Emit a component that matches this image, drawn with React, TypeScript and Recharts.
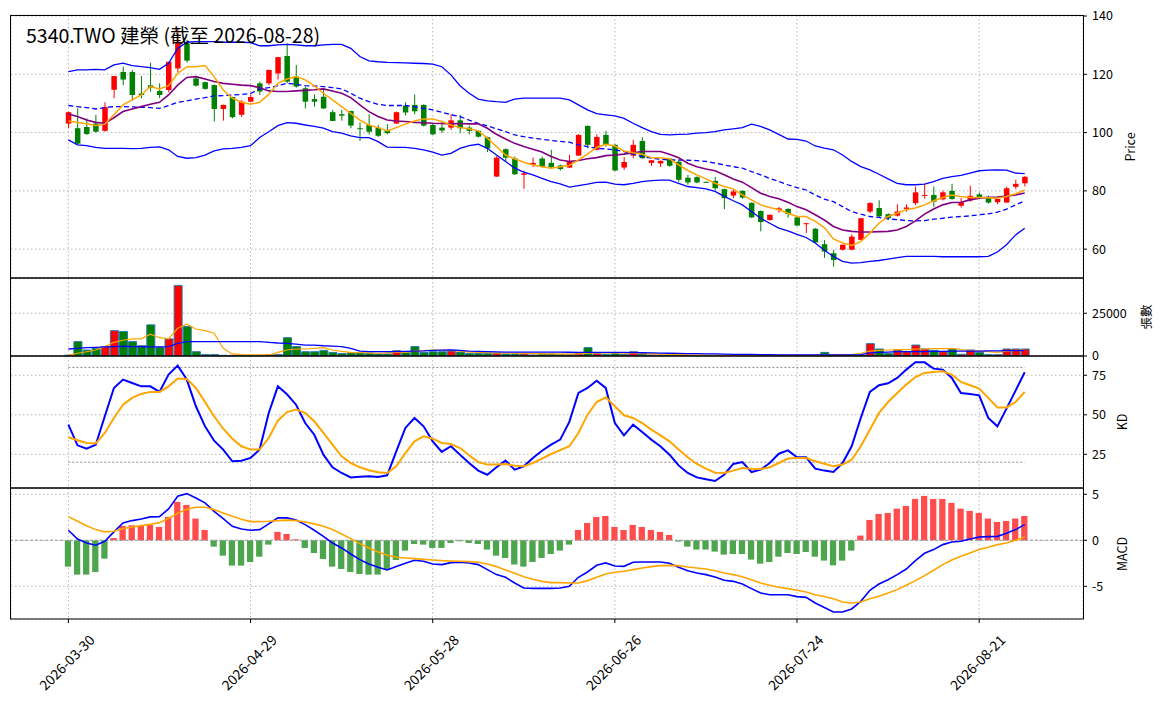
import React from "react";
import {
  Bar,
  CartesianGrid,
  Cell,
  ComposedChart,
  Line,
  ReferenceLine,
  XAxis,
  YAxis,
} from "recharts";

// ---- data (one entry per trading day, index 0..105) ----
const tickIdx = [0, 20, 40, 60, 80, 100];
const tickLabels = ["2026-03-30", "2026-04-29", "2026-05-28", "2026-06-26", "2026-07-24", "2026-08-21"];

const open = [
  103.1, 101.5, 101.9, 103.1, 100.6, 114.7, 120.8, 120.8, 113.4, 116.2, 114.3, 114.6, 122.0, 130.6, 118.6, 117.3, 116.3, 108.1, 112.2, 106.1,
  110.6, 116.9, 116.9, 120.3, 126.3, 119.2, 115.2, 111.5, 112.3, 107.0, 106.3, 107.4, 101.5, 102.6, 101.7, 100.9, 103.1, 109.3, 109.5, 109.5,
  102.6, 101.7, 101.7, 104.2, 101.7, 100.6, 98.4, 84.9, 94.3, 91.1, 85.5, 89.0, 91.1, 89.6, 88.7, 88.0, 92.1, 102.3, 94.1, 99.2,
  95.8, 88.0, 92.1, 97.1, 89.6, 89.4, 91.1, 90.0, 84.5, 84.7, 83.1, 83.4, 80.6, 78.4, 80.0, 75.9, 73.1, 70.0, 73.4, 73.8,
  70.9, 68.6, 67.0, 61.7, 58.6, 59.8, 59.8, 63.2, 72.9, 74.1, 72.0, 71.5, 73.8, 75.8, 78.3, 78.6, 77.1, 80.0, 74.9, 76.7,
  78.8, 77.7, 76.1, 76.0, 81.4, 82.6,
];
const high = [
  107.2, 108.3, 104.9, 106.1, 110.4, 119.4, 122.6, 121.5, 119.4, 124.0, 116.9, 124.3, 136.0, 131.8, 119.0, 117.5, 116.5, 109.6, 112.3, 111.1,
  113.1, 117.5, 121.6, 126.0, 130.6, 123.2, 115.8, 113.1, 115.0, 107.8, 107.8, 107.5, 103.5, 106.3, 102.6, 102.9, 107.2, 110.4, 113.1, 109.7,
  103.0, 104.0, 106.3, 106.1, 102.4, 100.8, 98.6, 91.9, 94.6, 91.8, 86.9, 91.4, 91.8, 94.1, 89.0, 92.3, 99.5, 102.4, 99.4, 100.6,
  96.0, 91.6, 97.5, 98.4, 90.6, 90.4, 91.3, 90.4, 85.5, 85.0, 83.2, 84.8, 80.8, 80.6, 80.2, 76.0, 73.3, 71.9, 74.5, 74.0,
  71.0, 69.0, 67.2, 63.1, 59.8, 61.6, 65.1, 70.7, 76.1, 76.8, 72.3, 75.4, 75.4, 81.5, 82.4, 81.5, 80.1, 82.4, 77.5, 81.8,
  79.4, 78.4, 77.4, 81.5, 83.8, 85.1,
];
const low = [
  101.5, 96.0, 99.2, 100.0, 100.3, 111.8, 116.3, 110.9, 111.8, 114.0, 111.8, 113.8, 120.7, 124.0, 115.8, 114.7, 103.8, 104.1, 104.9, 105.4,
  110.4, 112.9, 116.3, 118.2, 116.9, 115.4, 108.3, 108.9, 108.1, 103.9, 104.1, 101.5, 97.1, 99.4, 98.5, 99.4, 102.9, 105.9, 106.3, 102.1,
  99.2, 99.8, 100.9, 99.8, 99.4, 98.3, 93.3, 84.8, 90.0, 85.5, 80.7, 88.2, 87.9, 87.8, 87.0, 87.8, 92.0, 94.6, 93.9, 95.2,
  86.8, 87.2, 91.2, 91.0, 88.5, 88.2, 88.3, 83.1, 82.1, 82.6, 82.8, 80.2, 73.7, 77.5, 77.3, 70.7, 66.1, 69.8, 72.5, 70.8,
  67.9, 65.5, 62.2, 57.0, 54.0, 59.5, 59.6, 63.1, 72.3, 71.0, 70.0, 71.2, 72.9, 75.1, 77.3, 74.5, 76.7, 76.9, 74.3, 76.3,
  77.4, 75.6, 75.4, 75.9, 80.6, 81.5,
];
const close = [
  107.0, 96.2, 99.5, 100.3, 108.8, 119.4, 118.2, 112.9, 112.9, 115.4, 112.9, 124.3, 131.2, 124.7, 116.1, 115.0, 108.1, 109.5, 105.3, 110.6,
  112.2, 114.1, 121.5, 125.9, 117.5, 115.8, 110.6, 110.6, 108.3, 104.0, 105.8, 102.4, 101.3, 100.3, 98.9, 99.8, 107.0, 106.9, 107.3, 102.4,
  99.4, 100.7, 104.2, 101.5, 100.6, 98.6, 94.6, 91.4, 91.4, 85.7, 86.0, 89.6, 88.3, 88.1, 87.5, 90.3, 99.2, 95.8, 98.5, 95.8,
  87.0, 89.9, 95.8, 91.2, 90.5, 90.3, 88.6, 83.8, 82.9, 82.9, 82.9, 80.9, 77.5, 79.8, 77.7, 70.9, 69.3, 71.8, 74.0, 72.0,
  68.1, 68.9, 62.3, 59.2, 56.3, 61.5, 64.3, 70.6, 75.8, 71.3, 70.6, 72.9, 74.3, 79.5, 78.6, 76.3, 79.5, 77.2, 76.1, 78.3,
  77.9, 76.0, 77.2, 80.9, 82.4, 84.8,
];
const ma5 = [
  104.0, 103.5, 103.0, 102.4, 102.9, 106.1, 109.5, 111.2, 112.9, 115.8, 115.0, 116.1, 120.3, 122.6, 122.6, 123.0, 119.2, 114.6, 111.8, 110.4,
  109.7, 110.4, 113.1, 116.9, 118.4, 119.2, 118.1, 116.0, 113.5, 111.2, 108.9, 106.6, 104.3, 102.6, 101.7, 100.6, 101.7, 102.9, 104.0, 104.7,
  104.7, 103.8, 102.6, 101.7, 101.3, 100.6, 98.1, 95.2, 92.3, 91.0, 89.8, 88.9, 88.3, 87.8, 88.3, 88.7, 90.6, 92.6, 94.9, 96.0,
  95.4, 93.7, 93.1, 92.6, 91.4, 91.4, 91.0, 88.9, 87.0, 85.5, 84.1, 82.6, 81.5, 80.7, 78.6, 76.9, 75.2, 74.3, 73.5, 72.3,
  71.2, 71.2, 69.5, 67.4, 63.5, 62.1, 61.3, 62.6, 65.5, 68.9, 71.2, 72.3, 73.5, 74.1, 75.2, 76.6, 77.7, 78.6, 78.1, 77.7,
  77.7, 77.6, 77.5, 78.1, 79.0, 80.3,
];
const ma10 = [
  106.4, 105.5, 104.3, 103.5, 103.2, 105.1, 107.2, 108.1, 108.9, 109.7, 110.4, 112.9, 116.3, 118.9, 119.2, 118.4, 117.5, 116.9, 116.6, 116.3,
  116.1, 115.4, 114.3, 114.1, 114.1, 114.3, 114.5, 114.7, 115.0, 114.3, 113.5, 112.0, 109.5, 107.2, 105.5, 104.3, 104.0, 103.8, 103.5, 103.4,
  103.2, 103.1, 103.0, 103.1, 103.0, 103.0, 101.5, 99.4, 97.8, 96.3, 95.2, 94.3, 93.3, 91.8, 90.6, 90.1, 90.4, 91.0, 91.4, 92.1,
  92.3, 92.6, 93.1, 93.5, 93.5, 93.5, 92.6, 91.4, 89.5, 88.3, 87.5, 86.9, 85.5, 84.1, 83.0, 81.1, 79.2, 78.1, 77.3, 76.1,
  74.6, 73.5, 71.8, 70.0, 67.8, 66.6, 66.1, 65.9, 65.9, 66.0, 66.1, 66.6, 67.8, 69.7, 72.0, 73.8, 75.2, 76.0, 76.1, 76.9,
  77.5, 77.8, 77.9, 78.2, 78.6, 79.3,
];
const bbUpper = [
  120.9, 121.5, 121.5, 121.7, 121.5, 123.2, 123.8, 123.0, 122.6, 122.3, 121.7, 123.8, 128.9, 131.0, 131.2, 131.2, 131.2, 131.0, 131.0, 131.0,
  130.9, 129.8, 129.8, 130.1, 130.3, 130.1, 129.8, 129.8, 130.1, 130.3, 130.3, 128.9, 126.1, 124.6, 124.3, 124.1, 124.0, 123.9, 123.8, 123.7,
  123.5, 122.6, 119.8, 116.1, 113.5, 111.5, 110.9, 110.6, 110.4, 111.5, 111.8, 111.8, 111.8, 111.8, 111.8, 111.2, 109.5, 107.8, 106.5, 106.1,
  105.7, 104.9, 103.2, 101.7, 100.3, 99.4, 99.2, 99.4, 99.5, 99.8, 100.0, 100.3, 100.9, 101.3, 101.7, 102.9, 102.1, 100.9, 99.4, 97.8,
  97.7, 97.1, 95.4, 94.7, 94.1, 92.3, 90.1, 88.3, 87.2, 85.7, 84.1, 82.6, 82.1, 82.1, 82.3, 83.2, 84.3, 84.9, 85.3, 86.1,
  86.9, 87.1, 87.2, 87.1, 86.1, 85.9,
];
const bbMid = [
  109.3, 108.9, 108.6, 108.1, 108.6, 108.9, 108.9, 108.8, 108.7, 108.6, 108.3, 109.3, 110.4, 110.9, 111.5, 112.0, 112.6, 112.7, 112.9, 113.1,
  113.4, 115.0, 115.4, 116.1, 116.9, 116.6, 116.1, 116.0, 115.8, 115.4, 115.0, 113.5, 111.8, 110.6, 109.7, 109.3, 109.3, 109.3, 108.9, 108.3,
  107.8, 107.0, 106.1, 105.5, 104.3, 103.2, 102.3, 101.3, 100.3, 99.2, 98.6, 98.1, 97.7, 97.3, 97.0, 96.7, 95.8, 95.2, 94.6, 94.4,
  94.1, 93.5, 92.6, 91.8, 91.2, 90.9, 90.6, 90.6, 90.5, 90.4, 90.1, 89.5, 88.9, 88.3, 87.8, 86.6, 85.5, 84.3, 83.2, 82.1,
  81.1, 80.3, 78.6, 77.2, 76.3, 74.6, 72.9, 72.0, 71.2, 70.9, 70.4, 70.1, 69.8, 69.7, 69.8, 70.3, 70.6, 71.0, 71.2, 71.4,
  71.8, 72.1, 72.7, 73.7, 75.2, 76.6,
];
const bbLower = [
  97.5, 95.8, 95.5, 94.9, 94.6, 94.6, 94.6, 94.5, 94.6, 94.9, 95.1, 94.1, 91.8, 91.2, 91.4, 92.3, 93.7, 94.4, 94.6, 94.9,
  95.5, 98.3, 100.3, 102.4, 103.4, 103.2, 102.6, 102.1, 101.5, 100.3, 99.8, 98.9, 98.3, 98.3, 96.9, 95.0, 94.9, 94.9, 94.6, 94.1,
  93.3, 92.3, 92.9, 94.6, 95.5, 96.0, 94.6, 92.3, 90.1, 87.8, 86.4, 85.5, 84.3, 83.2, 82.4, 81.3, 81.8, 82.3, 82.9, 83.0,
  82.3, 82.1, 82.6, 83.2, 83.5, 83.7, 83.7, 82.6, 81.5, 81.1, 80.7, 79.8, 78.1, 76.6, 75.2, 72.9, 70.6, 68.9, 67.2, 66.3,
  65.1, 64.0, 62.1, 59.6, 57.5, 55.8, 55.2, 55.4, 55.8, 56.1, 56.6, 57.1, 57.5, 57.5, 57.5, 57.5, 57.4, 57.4, 57.4, 57.4,
  57.4, 57.5, 59.0, 61.5, 64.9, 67.2,
];
const volume = [
  500, 8400, 3500, 4500, 5500, 14800, 14300, 8400, 6000, 18200, 4900, 10000, 41200, 17200, 2500, 800, 800, 400, 400, 400,
  400, 400, 800, 800, 10700, 5500, 2500, 2500, 3300, 2100, 1400, 1800, 1800, 1600, 1200, 1200, 3100, 2100, 5500, 2100,
  2500, 2500, 2900, 2300, 1400, 1400, 1600, 1600, 1200, 1200, 1200, 600, 1200, 1200, 1000, 1000, 1400, 4900, 1400, 1000,
  1400, 1000, 2500, 1200, 600, 500, 500, 500, 400, 400, 400, 400, 400, 400, 400, 400, 400, 400, 400, 400,
  400, 400, 400, 2100, 600, 600, 600, 500, 7200, 4100, 1400, 3500, 2500, 6400, 4100, 3300, 2500, 4100, 1000, 3500,
  2100, 800, 800, 4100, 4100, 4100,
];
const volMa5 = [
  600, 1600, 2500, 3500, 5500, 8000, 9200, 10000, 10000, 12700, 10700, 10000, 16200, 18600, 15800, 14800, 13300, 4500, 1200, 800,
  600, 600, 600, 2100, 3500, 4100, 4100, 4500, 4900, 3500, 2700, 2100, 1900, 1800, 1600, 1800, 2100, 2100, 2900, 3100,
  3500, 3500, 3300, 2900, 2300, 2100, 1900, 1800, 1600, 1600, 1500, 1400, 1300, 1200, 1100, 1100, 1200, 1600, 1800, 1800,
  1800, 1600, 1600, 1400, 1300, 1100, 900, 800, 600, 500, 400, 400, 400, 400, 400, 400, 400, 400, 400, 400,
  400, 400, 400, 600, 600, 600, 800, 1600, 2900, 3300, 3500, 3700, 3700, 4100, 4100, 4300, 4300, 4500, 3700, 3100,
  2900, 2500, 2100, 2900, 3300, 3700,
];
const volMa20 = [
  4100, 4500, 4900, 5100, 5300, 5500, 5700, 5500, 5500, 5300, 5300, 5500, 7400, 8400, 8400, 8400, 8400, 8400, 8400, 8400,
  8400, 8400, 8000, 7600, 7400, 7000, 6400, 6400, 6000, 5800, 5500, 4500, 2900, 2500, 2500, 2500, 2600, 2700, 2900, 3000,
  3300, 3400, 3500, 3300, 2900, 2700, 2500, 2400, 2300, 2300, 2300, 2300, 2300, 2300, 2300, 2200, 2100, 2100, 2100, 2100,
  2100, 2100, 2000, 1900, 1800, 1700, 1600, 1500, 1400, 1400, 1300, 1200, 1100, 1000, 900, 900, 800, 800, 700, 700,
  600, 600, 600, 600, 600, 600, 600, 800, 1800, 2100, 2300, 2500, 2500, 2600, 2600, 2700, 2700, 2800, 2800, 2900,
  2900, 3000, 3000, 3100, 3200, 3300,
];
const kLine = [
  43.8, 30.7, 28.6, 31.1, 49.1, 67.0, 72.3, 70.1, 68.0, 68.0, 64.5, 75.4, 81.1, 72.3, 55.4, 42.7, 33.6, 28.0, 20.6, 21.0,
  22.7, 28.0, 51.2, 68.0, 63.0, 56.4, 44.8, 37.4, 24.8, 16.8, 13.2, 10.4, 10.8, 11.1, 10.7, 11.7, 26.9, 41.7, 48.0, 42.7,
  33.2, 26.5, 30.1, 24.8, 19.5, 14.7, 12.1, 16.8, 21.0, 15.3, 17.4, 22.7, 27.3, 31.1, 34.3, 45.5, 63.8, 67.0, 71.6, 67.0,
  44.8, 37.0, 43.8, 39.1, 34.3, 30.1, 24.8, 18.0, 13.2, 10.4, 9.2, 8.1, 12.1, 18.9, 20.1, 13.8, 15.3, 19.5, 25.4, 27.5,
  23.1, 23.1, 15.9, 14.7, 13.8, 19.5, 30.1, 48.0, 64.5, 68.7, 69.9, 73.3, 78.6, 83.2, 83.2, 79.2, 78.6, 73.3, 63.8, 63.2,
  62.3, 48.0, 42.7, 53.9, 65.3, 76.9,
];
const dLine = [
  35.8, 33.9, 32.2, 31.8, 38.5, 48.0, 56.4, 60.7, 63.2, 64.5, 64.5, 68.0, 72.9, 72.7, 67.0, 58.1, 49.1, 41.2, 34.9, 30.1,
  28.0, 28.0, 35.3, 46.3, 51.7, 53.3, 51.2, 45.9, 38.5, 31.1, 23.7, 19.5, 16.8, 14.9, 13.6, 13.2, 17.4, 25.8, 33.2, 36.4,
  34.9, 32.2, 31.5, 29.0, 24.4, 20.1, 18.5, 18.5, 18.9, 17.8, 17.4, 19.5, 22.3, 25.2, 27.7, 30.1, 38.5, 50.1, 58.1, 61.1,
  55.4, 49.7, 48.0, 44.8, 40.6, 37.0, 33.2, 28.0, 23.1, 18.9, 15.9, 13.4, 13.2, 14.7, 16.4, 15.9, 15.7, 16.8, 19.5, 22.3,
  22.7, 22.7, 20.6, 19.0, 17.4, 18.5, 21.6, 30.1, 40.6, 51.2, 58.1, 63.8, 69.1, 73.9, 76.5, 77.1, 77.5, 75.4, 70.8, 68.7,
  66.6, 60.7, 54.7, 54.7, 58.1, 64.5,
];
const dif = [
  1.09, 0.14, -0.29, -0.54, -0.11, 0.91, 1.88, 2.14, 2.32, 2.54, 2.57, 3.41, 4.78, 5.07, 4.6, 4.06, 3.15, 2.36, 1.52, 1.23,
  1.09, 1.16, 1.78, 2.43, 2.43, 2.21, 1.7, 1.09, 0.43, -0.29, -0.83, -1.49, -2.1, -2.57, -2.93, -3.22, -2.86, -2.5, -2.17, -2.28,
  -2.57, -2.64, -2.43, -2.39, -2.46, -2.64, -3.19, -3.73, -4.02, -4.64, -5.18, -5.22, -5.22, -5.22, -5.18, -5.0, -4.02, -3.44, -2.72, -2.46,
  -2.79, -2.83, -2.39, -2.36, -2.36, -2.36, -2.5, -2.93, -3.3, -3.55, -3.73, -3.99, -4.35, -4.46, -4.75, -5.25, -5.72, -5.91, -5.91, -5.91,
  -6.12, -6.2, -6.81, -7.3, -7.79, -7.79, -7.46, -6.63, -5.43, -4.75, -4.28, -3.73, -3.12, -2.21, -1.41, -1.01, -0.47, -0.18, -0.11, 0.14,
  0.36, 0.4, 0.43, 0.76, 1.16, 1.7,
];
const dea = [
  2.57, 2.07, 1.59, 1.16, 0.91, 0.98, 1.27, 1.45, 1.59, 1.74, 1.92, 2.36, 2.93, 3.37, 3.59, 3.59, 3.33, 2.97, 2.61, 2.28,
  2.03, 2.03, 2.07, 2.14, 2.19, 2.14, 1.99, 1.78, 1.52, 1.16, 0.69, 0.18, -0.36, -0.83, -1.27, -1.63, -1.85, -1.92, -1.99, -2.07,
  -2.14, -2.21, -2.25, -2.28, -2.32, -2.39, -2.57, -2.86, -3.22, -3.59, -3.95, -4.24, -4.46, -4.6, -4.6, -4.64, -4.64, -4.38, -4.02, -3.66,
  -3.48, -3.37, -3.19, -3.01, -2.86, -2.75, -2.72, -2.75, -2.9, -3.01, -3.12, -3.3, -3.55, -3.73, -3.95, -4.28, -4.64, -4.89, -5.11, -5.25,
  -5.43, -5.62, -5.91, -6.1, -6.34, -6.7, -6.81, -6.7, -6.34, -6.09, -5.72, -5.36, -4.89, -4.38, -3.84, -3.26, -2.64, -2.14, -1.74, -1.38,
  -1.01, -0.76, -0.47, -0.29, 0.0, 0.36,
];
const hist = [
  -2.86, -3.73, -3.73, -3.44, -1.99, 0.25, 1.56, 1.63, 1.56, 1.7, 1.45, 2.54, 4.17, 3.84, 2.36, 1.12, -0.69, -1.67, -2.75, -2.75,
  -2.36, -1.78, -0.47, 0.91, 0.69, 0.11, -0.83, -1.38, -2.03, -2.86, -3.12, -3.44, -3.66, -3.73, -3.73, -3.12, -2.14, -1.12, -0.4, -0.47,
  -0.83, -0.83, -0.29, -0.11, -0.29, -0.4, -1.01, -1.67, -1.92, -2.64, -2.86, -2.36, -1.92, -1.49, -1.12, -0.47, 1.12, 1.88, 2.54, 2.64,
  1.45, 1.12, 1.67, 1.45, 1.12, 0.91, 0.58, -0.14, -0.69, -1.01, -1.01, -1.23, -1.56, -1.49, -1.49, -2.1, -2.54, -2.36, -1.78, -1.38,
  -1.49, -1.27, -1.78, -2.21, -2.72, -2.21, -1.12, 0.51, 2.21, 2.86, 2.97, 3.44, 3.73, 4.49, 4.82, 4.49, 4.49, 4.06, 3.44, 3.19,
  2.97, 2.36, 1.99, 2.1, 2.36, 2.64,
];

const rows = open.map((o, i) => ({
  i,
  open: o,
  high: high[i],
  low: low[i],
  close: close[i],
  ma5: ma5[i],
  ma10: ma10[i],
  bbUpper: bbUpper[i],
  bbMid: bbMid[i],
  bbLower: bbLower[i],
  vol: volume[i],
  volMa5: volMa5[i],
  volMa20: volMa20[i],
  k: kLine[i],
  d: dLine[i],
  dif: dif[i],
  dea: dea[i],
  hist: hist[i],
}));

const FONT = '"Noto Sans CJK TC", "Noto Sans", sans-serif';
const X_DOMAIN: [number, number] = [-6.3, 111.4];
const W = 1164;
const PAD = 10; // room so edge tick labels are not clipped
const MARGIN = { top: PAD, right: 21, bottom: PAD, left: 11 };
const GRID = "#b8b8b8";
const UP = "#ff0000";
const DOWN = "#008000";

const tickStyle = { fill: "#000", fontSize: 12.5, fontFamily: FONT };

function Candle(props: any) {
  const { x, y, width, height, payload } = props;
  if (!payload) return null;
  const top = Math.min(y, y + height);
  const h = Math.abs(height);
  const span = payload.high - payload.low || 1;
  const py = (v: number) => top + ((payload.high - v) / span) * h;
  const up = payload.close >= payload.open;
  const color = up ? UP : DOWN;
  const cx = x + width / 2;
  const bTop = py(Math.max(payload.open, payload.close));
  const bBot = py(Math.min(payload.open, payload.close));
  return (
    <g>
      <line x1={cx} x2={cx} y1={top} y2={top + h} stroke={color} strokeWidth={1} />
      <rect x={x} y={bTop} width={width} height={Math.max(bBot - bTop, 1)} fill={color} />
    </g>
  );
}

function DateTick(props: any) {
  const { x, y, payload } = props;
  const label = tickLabels[tickIdx.indexOf(payload.value)] ?? "";
  return (
    <g transform={`translate(${x - 2},${y + 37})`}>
      <text
        transform="rotate(-45)"
        textAnchor="middle"
        dominantBaseline="central"
        fontSize={13.8}
        fontFamily={FONT}
        fill="#000"
      >
        {label}
      </text>
    </g>
  );
}

function xAxisHidden() {
  return (
    <XAxis
      dataKey="i"
      type="number"
      domain={X_DOMAIN}
      ticks={tickIdx}
      allowDataOverflow
      hide
    />
  );
}

function rightAxis(domain: [number, number], ticks: number[]) {
  return (
    <YAxis
      orientation="right"
      width={60}
      domain={domain}
      ticks={ticks}
      allowDataOverflow
      axisLine={false}
      tickLine={{ stroke: "#000" }}
      tickSize={4}
      tickMargin={5}
      tick={tickStyle}
      interval={0}
    />
  );
}

export default function App() {
  return (
    <div
      style={{
        position: "fixed",
        left: 0,
        top: 0,
        width: W,
        height: 704,
        background: "#fff",
        fontFamily: FONT,
      }}
    >
      {/* price panel: plot 15..278 */}
      <div style={{ position: "absolute", left: 0, top: 15 - PAD }}>
        <ComposedChart width={W} height={263 + 2 * PAD} data={rows} margin={MARGIN}>
          <CartesianGrid stroke={GRID} strokeDasharray="1.5 2.5" />
          {xAxisHidden()}
          {rightAxis([50.1, 140.35], [60, 80, 100, 120, 140])}
          <Line dataKey="bbUpper" stroke="#0000ff" strokeWidth={1.3} dot={false} activeDot={false} isAnimationActive={false} />
          <Line dataKey="bbLower" stroke="#0000ff" strokeWidth={1.3} dot={false} activeDot={false} isAnimationActive={false} />
          <Line dataKey="bbMid" stroke="#0000ff" strokeWidth={1.3} strokeDasharray="5 3" dot={false} activeDot={false} isAnimationActive={false} />
          <Bar dataKey={(d: any) => [d.low, d.high]} barSize={5.5} shape={Candle} isAnimationActive={false} />
          <Line dataKey="ma10" stroke="#800080" strokeWidth={1.6} dot={false} activeDot={false} isAnimationActive={false} />
          <Line dataKey="ma5" stroke="#ffa500" strokeWidth={1.5} dot={false} activeDot={false} isAnimationActive={false} />
        </ComposedChart>
      </div>

      {/* volume panel: plot 278..356 */}
      <div style={{ position: "absolute", left: 0, top: 278 - PAD }}>
        <ComposedChart width={W} height={78 + 2 * PAD} data={rows} margin={MARGIN}>
          <CartesianGrid stroke={GRID} strokeDasharray="1.5 2.5" />
          {xAxisHidden()}
          {rightAxis([0, 45600], [0, 25000])}
          <Bar dataKey="vol" barSize={8} stroke="#2a76ad" strokeWidth={1} isAnimationActive={false}>
            {rows.map((r) => (
              <Cell key={r.i} fill={r.close >= r.open ? UP : DOWN} />
            ))}
          </Bar>
          <Line dataKey="volMa5" stroke="#ffa500" strokeWidth={1.2} dot={false} activeDot={false} isAnimationActive={false} />
          <Line dataKey="volMa20" stroke="#0000ff" strokeWidth={1.3} dot={false} activeDot={false} isAnimationActive={false} />
        </ComposedChart>
      </div>

      {/* KD panel: plot 356..488 */}
      <div style={{ position: "absolute", left: 0, top: 356 - PAD }}>
        <ComposedChart width={W} height={132 + 2 * PAD} data={rows} margin={MARGIN}>
          <CartesianGrid stroke={GRID} strokeDasharray="1.5 2.5" />
          {xAxisHidden()}
          {rightAxis([3.7, 87.2], [25, 50, 75])}
          <ReferenceLine segment={[{ x: 0, y: 80 }, { x: 105, y: 80 }]} stroke="#888" strokeDasharray="2 2" />
          <ReferenceLine segment={[{ x: 0, y: 20 }, { x: 105, y: 20 }]} stroke="#888" strokeDasharray="2 2" />
          <Line dataKey="k" stroke="#0000ff" strokeWidth={2} dot={false} activeDot={false} isAnimationActive={false} />
          <Line dataKey="d" stroke="#ffa500" strokeWidth={2} dot={false} activeDot={false} isAnimationActive={false} />
        </ComposedChart>
      </div>

      {/* MACD panel with date axis: plot 488..619 */}
      <div style={{ position: "absolute", left: 0, top: 488 - PAD }}>
        <ComposedChart
          width={W}
          height={PAD + 131 + 85}
          data={rows}
          margin={{ ...MARGIN, bottom: 0 }}
        >
          <CartesianGrid stroke={GRID} strokeDasharray="1.5 2.5" />
          <XAxis
            dataKey="i"
            type="number"
            domain={X_DOMAIN}
            ticks={tickIdx}
            allowDataOverflow
            height={85}
            axisLine={false}
            tickLine={{ stroke: "#000" }}
            tickSize={4}
            tick={<DateTick />}
            interval={0}
          />
          {rightAxis([-8.55, 5.68], [-5, 0, 5])}
          <ReferenceLine y={0} stroke="#999" strokeDasharray="3 2" />
          <Bar dataKey="hist" barSize={6.3} isAnimationActive={false}>
            {rows.map((r) => (
              <Cell key={r.i} fill={r.hist >= 0 ? "#ff4d4d" : "#4da64d"} />
            ))}
          </Bar>
          <Line dataKey="dif" stroke="#0000ff" strokeWidth={1.6} dot={false} activeDot={false} isAnimationActive={false} />
          <Line dataKey="dea" stroke="#ffa500" strokeWidth={1.6} dot={false} activeDot={false} isAnimationActive={false} />
        </ComposedChart>
      </div>

      {/* frames, title and axis labels */}
      <svg width={W} height={704} style={{ position: "absolute", left: 0, top: 0, pointerEvents: "none" }}>
        <g fill="none" stroke="#000" strokeWidth={1}>
          <rect x={10.5} y={15.5} width={1073} height={262.5} />
          <rect x={10.5} y={278} width={1073} height={78} />
          <rect x={10.5} y={356} width={1073} height={132} />
          <rect x={10.5} y={488} width={1073} height={131} />
        </g>
        <text x={26} y={43} fontSize={19.5} fontFamily={FONT} fill="#000">
          5340.TWO 建榮 (截至 2026-08-28)
        </text>
        <g fontSize={12.5} fontFamily={FONT} fill="#000" textAnchor="middle">
          <text transform="translate(1129,147) rotate(-90)" dominantBaseline="central">Price</text>
          <text transform="translate(1145,317) rotate(-90)" dominantBaseline="central">張數</text>
          <text transform="translate(1121,422) rotate(-90)" dominantBaseline="central">KD</text>
          <text transform="translate(1121,554) rotate(-90)" dominantBaseline="central">MACD</text>
        </g>
      </svg>
    </div>
  );
}
